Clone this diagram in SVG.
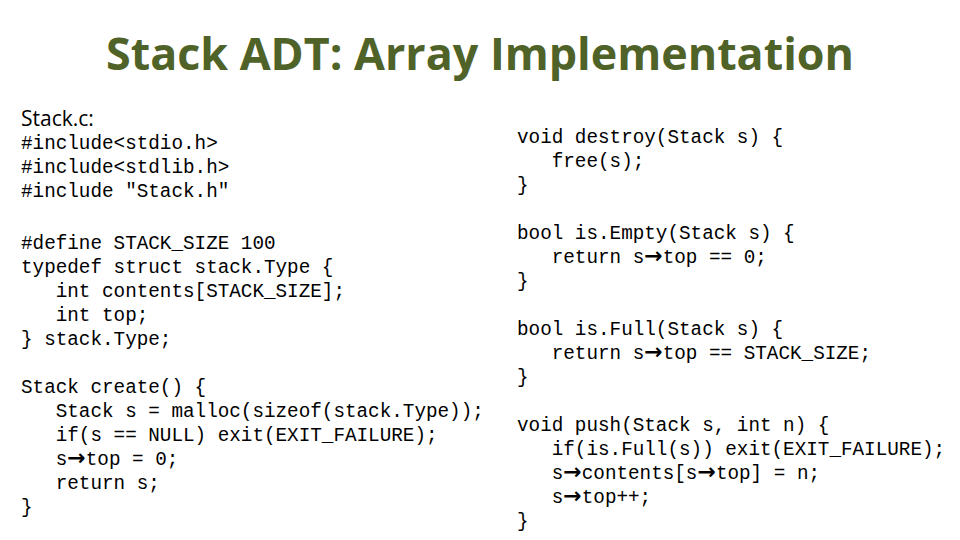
<svg xmlns="http://www.w3.org/2000/svg" width="960" height="540" viewBox="0 0 960 540">
<style>
.t{font-family:"Open Sans","Liberation Sans",sans-serif;font-weight:bold;font-size:44px;fill:#4F6228}
.h{font-family:"Open Sans","Liberation Sans",sans-serif;font-size:21px;fill:#000}
.c{font-family:"Liberation Mono","DejaVu Sans Mono",monospace;font-size:19.3px;fill:#000;white-space:pre}
.a{font-family:"DejaVu Sans",sans-serif;font-size:22px;font-weight:bold}
</style>
<rect width="960" height="540" fill="#fff"/>
<g id="title"><text class="t" x="480" y="70" text-anchor="middle" textLength="748" lengthAdjust="spacingAndGlyphs">Stack ADT: Array Implementation</text></g>
<g id="left">
<text class="h" x="21" y="126">Stack.c:</text>
<text class="c" xml:space="preserve">
<tspan x="21" y="149">#include&lt;stdio.h&gt;</tspan>
<tspan x="21" y="173">#include&lt;stdlib.h&gt;</tspan>
<tspan x="21" y="197">#include "Stack.h"</tspan>
<tspan x="21" y="249">#define STACK_SIZE 100</tspan>
<tspan x="21" y="273">typedef struct stack.Type {</tspan>
<tspan x="21" y="297">   int contents[STACK_SIZE];</tspan>
<tspan x="21" y="321">   int top;</tspan>
<tspan x="21" y="345">} stack.Type;</tspan>
<tspan x="21" y="393">Stack create() {</tspan>
<tspan x="21" y="417">   Stack s = malloc(sizeof(stack.Type));</tspan>
<tspan x="21" y="441">   if(s == NULL) exit(EXIT_FAILURE);</tspan>
<tspan x="21" y="465">   s<tspan class="a">→</tspan>top = 0;</tspan>
<tspan x="21" y="489">   return s;</tspan>
<tspan x="21" y="513">}</tspan>
</text>
</g>
<g id="right">
<text class="c" xml:space="preserve">
<tspan x="517" y="143">void destroy(Stack s) {</tspan>
<tspan x="517" y="167">   free(s);</tspan>
<tspan x="517" y="191">}</tspan>
<tspan x="517" y="239">bool is.Empty(Stack s) {</tspan>
<tspan x="517" y="263">   return s<tspan class="a">→</tspan>top == 0;</tspan>
<tspan x="517" y="287">}</tspan>
<tspan x="517" y="335">bool is.Full(Stack s) {</tspan>
<tspan x="517" y="359">   return s<tspan class="a">→</tspan>top == STACK_SIZE;</tspan>
<tspan x="517" y="383">}</tspan>
<tspan x="517" y="431">void push(Stack s, int n) {</tspan>
<tspan x="517" y="455">   if(is.Full(s)) exit(EXIT_FAILURE);</tspan>
<tspan x="517" y="479">   s<tspan class="a">→</tspan>contents[s<tspan class="a">→</tspan>top] = n;</tspan>
<tspan x="517" y="503">   s<tspan class="a">→</tspan>top++;</tspan>
<tspan x="517" y="527">}</tspan>
</text>
</g>
</svg>
